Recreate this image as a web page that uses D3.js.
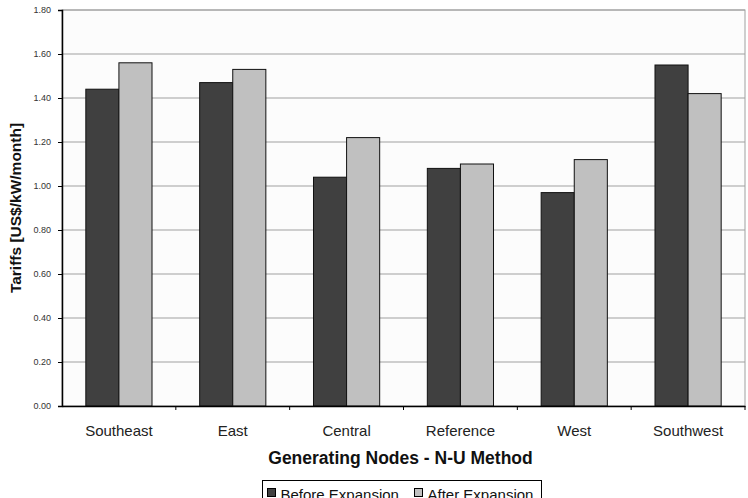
<!DOCTYPE html>
<html>
<head>
<meta charset="utf-8">
<script src="https://cdn.jsdelivr.net/npm/d3@7"></script>
<style>
  body { margin: 0; background: #fff; }
  text { font-family: "Liberation Sans", Arial, sans-serif; }
</style>
</head>
<body>
<div id="chart"></div>
<script>
var svgWidth = 748;
var svgHeight = 498;

var categories = ["Southeast", "East", "Central", "Reference", "West", "Southwest"];
var seriesNames = ["Before Expansion", "After Expansion"];
var beforeValues = [1.44, 1.47, 1.04, 1.08, 0.97, 1.55];
var afterValues = [1.56, 1.53, 1.22, 1.10, 1.12, 1.42];
var yTicks = [0, 0.2, 0.4, 0.6, 0.8, 1.0, 1.2, 1.4, 1.6, 1.8];
var colors = ["#404040", "#c0c0c0"];

var margin = {top: 10, right: 3, bottom: 92, left: 62};
var width = svgWidth - margin.left - margin.right;
var height = svgHeight - margin.top - margin.bottom;

var svg = d3.select("#chart")
  .append("svg")
  .attr("width", svgWidth)
  .attr("height", svgHeight);

var chartGroup = svg.append("g")
  .attr("transform", `translate(${margin.left}, ${margin.top})`);

var xScale = d3.scaleBand()
  .domain(categories)
  .range([0, width]);

var xInner = d3.scaleBand()
  .domain(seriesNames)
  .range([0, xScale.bandwidth()])
  .paddingInner(0)
  .paddingOuter(0.72);

var yScale = d3.scaleLinear()
  .domain([0, 1.8])
  .range([height, 0]);

// plot background + gridlines
chartGroup.append("rect")
  .attr("width", width)
  .attr("height", height)
  .attr("fill", "#fcfcfc")
  .attr("stroke", "#a0a0a0");

chartGroup.selectAll(".grid")
  .data(yTicks.slice(1))
  .enter()
  .append("line")
  .attr("x1", 0)
  .attr("x2", width)
  .attr("y1", d => yScale(d))
  .attr("y2", d => yScale(d))
  .attr("stroke", "#a0a0a0")
  .attr("stroke-width", 1);

// bars
var data = categories.map(function(c, i) {
  return {cat: c, values: [beforeValues[i], afterValues[i]]};
});

var groups = chartGroup.selectAll(".grp")
  .data(data)
  .enter()
  .append("g")
  .attr("transform", d => `translate(${xScale(d.cat)}, 0)`);

groups.selectAll("rect")
  .data(d => d.values.map((v, i) => ({name: seriesNames[i], value: v, i: i})))
  .enter()
  .append("rect")
  .attr("x", d => xInner(d.name))
  .attr("y", d => yScale(d.value))
  .attr("width", xInner.bandwidth())
  .attr("height", d => height - yScale(d.value))
  .attr("fill", d => colors[d.i])
  .attr("stroke", "#111")
  .attr("stroke-width", 1);

// axes
var leftAxis = d3.axisLeft(yScale)
  .tickValues(yTicks)
  .tickFormat(d3.format(".2f"))
  .tickSize(4)
  .tickPadding(7);

var yAxisG = chartGroup.append("g").call(leftAxis);
yAxisG.select(".domain").attr("stroke", "#000").attr("stroke-width", 1.5);
yAxisG.selectAll("text").attr("font-size", "9px").attr("fill", "#333")
  .style("font-family", "'Liberation Sans', Arial, sans-serif");

var bottomAxis = d3.axisBottom(xScale).tickSize(0);
var xAxisG = chartGroup.append("g")
  .attr("transform", `translate(0, ${height})`)
  .call(bottomAxis);
xAxisG.select(".domain").attr("stroke", "#000").attr("stroke-width", 1.5);
xAxisG.selectAll("text")
  .attr("y", 30)
  .attr("dy", null)
  .attr("font-size", "15px")
  .attr("fill", "#222")
  .style("font-family", "'Liberation Sans', Arial, sans-serif");

// category separator ticks
chartGroup.selectAll(".sep")
  .data(categories)
  .enter()
  .append("line")
  .attr("x1", d => xScale(d) + xScale.bandwidth())
  .attr("x2", d => xScale(d) + xScale.bandwidth())
  .attr("y1", height)
  .attr("y2", height + 4)
  .attr("stroke", "#000");

// axis titles
chartGroup.append("text")
  .attr("transform", `translate(${-41}, ${height / 2}) rotate(-90)`)
  .attr("text-anchor", "middle")
  .attr("font-size", "15.5px")
  .attr("font-weight", "bold")
  .attr("fill", "#111")
  .text("Tariffs [US$/kW/month]");

chartGroup.append("text")
  .attr("x", width / 2 - 3)
  .attr("y", height + 58)
  .attr("text-anchor", "middle")
  .attr("font-size", "17.5px")
  .attr("font-weight", "bold")
  .attr("fill", "#111")
  .text("Generating Nodes - N-U Method");

// legend
var legend = svg.append("g").attr("transform", "translate(262.5, 480.5)");
legend.append("rect")
  .attr("width", 279)
  .attr("height", 26)
  .attr("fill", "#fff")
  .attr("stroke", "#000");

var legendX = [5, 152];
seriesNames.forEach(function(name, i) {
  legend.append("rect")
    .attr("x", legendX[i])
    .attr("y", 8)
    .attr("width", 8)
    .attr("height", 8)
    .attr("fill", colors[i])
    .attr("stroke", "#000");
  legend.append("text")
    .attr("x", legendX[i] + 13)
    .attr("y", 19)
    .attr("font-size", "15px")
    .attr("fill", "#111")
    .text(name);
});
</script>
</body>
</html>
